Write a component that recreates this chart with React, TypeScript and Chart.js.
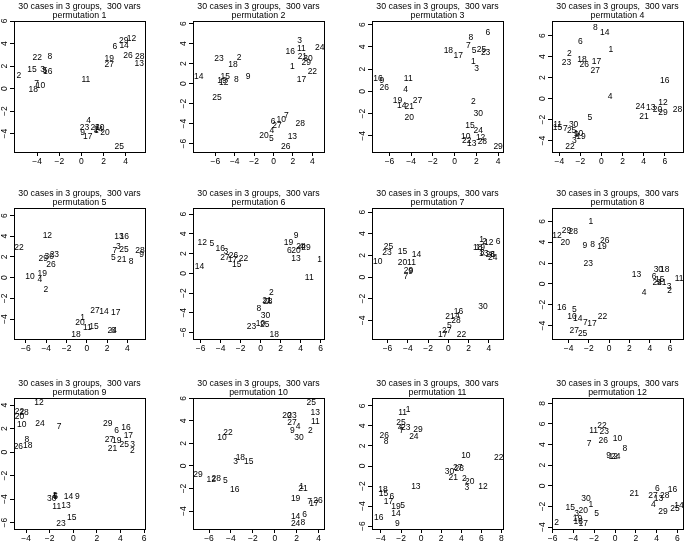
import React, { useEffect, useRef } from "react";
import { Chart, registerables } from "chart.js";

Chart.register(...registerables);

// ---------- data ----------
const titleLine = "30 cases in 3 groups,  300 vars";

const p1Ids = [2, 15, 3, 16, 5, 22, 8, 7, 10, 18, 11, 29, 12, 6, 14, 19, 27, 26, 28, 13, 4, 23, 9, 17, 1, 20, 30, 21, 24, 25];
const p1X = [-5.66, -4.48, -3.52, -3.04, -3.28, -4.0, -2.86, -4.06, -3.7, -4.36, 0.4, 3.83, 4.52, 3.02, 3.86, 2.51, 2.51, 4.22, 5.28, 5.22, 0.64, 0.28, 0.1, 0.58, 1.36, 2.14, 1.66, 1.24, 1.54, 3.41];
const p1Y = [1.12, 1.69, 1.72, 1.54, 1.63, 2.75, 2.87, 0.44, 0.3, -0.06, 0.8, 4.23, 4.41, 3.76, 3.85, 2.66, 2.16, 2.9, 2.87, 2.22, -2.87, -3.49, -3.88, -4.29, -3.76, -3.88, -3.49, -3.49, -3.64, -5.18];
const p1XRange = [-6.1, 5.75];
const p1YRange = [-5.62, 6.0];
const p1XTicks = [-4, -2, 0, 2, 4];
const p1YTicks = [-4, -2, 0, 2, 4, 6];

const p2Ids = [3, 11, 16, 24, 21, 30, 29, 22, 1, 17, 23, 2, 18, 14, 15, 12, 19, 8, 9, 25, 7, 10, 6, 27, 4, 20, 5, 28, 13, 26];
const p2X = [2.69, 2.87, 1.73, 4.76, 2.97, 3.55, 3.38, 4.0, 1.94, 2.87, -5.62, -3.56, -4.18, -7.72, -4.97, -5.14, -5.31, -3.84, -2.63, -5.83, 1.32, 0.8, -0.05, 0.36, -0.16, -0.98, -0.23, 2.76, 1.94, 1.25];
const p2Y = [4.27, 3.5, 3.17, 3.57, 2.73, 2.5, 2.1, 1.17, 1.67, 0.43, 2.5, 2.57, 1.93, 0.67, 0.73, 0.07, 0.27, 0.43, 0.73, -1.4, -3.17, -3.57, -3.83, -4.17, -4.73, -5.17, -5.5, -4.0, -5.27, -6.33];
const p2XRange = [-8.3, 5.2];
const p2YRange = [-6.83, 6.27];
const p2XTicks = [-6, -4, -2, 0, 2, 4];
const p2YTicks = [-6, -4, -2, 0, 2, 4, 6];

const p3Ids = [8, 6, 7, 5, 25, 23, 18, 17, 1, 3, 16, 9, 26, 11, 4, 19, 14, 21, 27, 20, 2, 30, 15, 24, 10, 22, 13, 12, 28, 29];
const p3X = [1.48, 3.06, 1.27, 1.79, 2.48, 2.85, -0.58, 0.33, 1.73, 2.03, -7.06, -6.7, -6.48, -4.27, -4.52, -5.27, -4.88, -4.18, -3.42, -4.18, 1.73, 2.18, 1.42, 2.18, 1.03, 1.12, 1.58, 2.39, 2.55, 4.0];
const p3Y = [4.82, 5.24, 4.13, 3.68, 3.74, 3.47, 3.62, 3.23, 2.63, 2.04, 1.14, 0.99, 0.3, 1.14, 0.15, -0.87, -1.26, -1.35, -0.81, -2.37, -0.96, -2.01, -3.11, -3.5, -4.04, -4.4, -4.7, -4.16, -4.55, -5.0];
const p3XRange = [-7.61, 4.45];
const p3YRange = [-5.45, 6.32];
const p3XTicks = [-6, -4, -2, 0, 2, 4];
const p3YTicks = [-4, -2, 0, 2, 4, 6];

const p4Ids = [8, 14, 6, 1, 2, 23, 18, 26, 17, 27, 16, 4, 12, 24, 13, 20, 29, 28, 21, 5, 11, 15, 30, 7, 25, 10, 9, 19, 3, 22];
const p4X = [-0.59, 0.32, -2.01, 0.89, -3.05, -3.31, -1.85, -1.63, -0.47, -0.59, 6.0, 0.83, 5.84, 3.67, 4.68, 5.31, 5.84, 7.2, 4.04, -1.1, -4.16, -4.16, -2.64, -3.43, -2.83, -2.17, -2.36, -1.95, -2.58, -2.99];
const p4Y = [6.73, 6.29, 5.46, 4.67, 4.29, 3.43, 3.71, 3.27, 3.49, 2.7, 1.68, 0.16, -0.41, -0.73, -0.86, -1.05, -1.33, -1.05, -1.68, -1.81, -2.48, -2.76, -2.44, -2.86, -3.02, -3.33, -3.4, -3.59, -4.03, -4.6];
const p4XRange = [-4.69, 7.73];
const p4YRange = [-5.08, 7.4];
const p4XTicks = [-4, -2, 0, 2, 4, 6];
const p4YTicks = [-4, -2, 0, 2, 4, 6];

const p5Ids = [12, 22, 13, 16, 3, 7, 25, 28, 9, 5, 21, 8, 29, 30, 23, 26, 10, 19, 4, 2, 27, 14, 17, 1, 20, 11, 15, 18, 24, 6];
const p5X = [-3.89, -6.69, 3.18, 3.7, 3.11, 2.78, 3.67, 5.25, 5.41, 2.62, 3.44, 4.36, -4.29, -3.7, -3.2, -3.53, -5.61, -4.39, -4.62, -4.03, 0.81, 1.7, 2.85, -0.41, -0.67, 0.05, 0.71, -1.07, 2.52, 2.62];
const p5Y = [4.01, 2.88, 3.94, 3.94, 3.04, 2.63, 2.72, 2.56, 2.24, 1.92, 1.76, 1.54, 1.83, 1.99, 2.24, 1.22, 0.1, 0.38, -0.16, -1.12, -3.21, -3.3, -3.37, -3.85, -4.39, -4.81, -4.74, -5.51, -5.13, -5.13];
const p5XRange = [-7.18, 5.74];
const p5YRange = [-5.93, 6.73];
const p5XTicks = [-6, -4, -2, 0, 2, 4];
const p5YTicks = [-4, -2, 0, 2, 4, 6];

const p6Ids = [9, 19, 24, 4, 29, 6, 20, 13, 1, 11, 12, 5, 16, 3, 27, 26, 17, 22, 15, 14, 2, 21, 28, 7, 8, 30, 23, 10, 25, 18];
const p6X = [3.54, 2.78, 4.03, 4.08, 4.53, 2.88, 3.54, 3.54, 5.91, 4.86, -5.84, -4.88, -4.03, -3.47, -3.57, -2.71, -2.81, -1.72, -2.38, -6.1, 1.07, 0.64, 0.71, 0.74, -0.18, 0.48, -0.9, -0.01, 0.41, 1.37];
const p6Y = [3.82, 3.14, 2.74, 2.7, 2.57, 2.33, 2.33, 1.45, 1.39, -0.47, 3.07, 2.97, 2.47, 2.23, 1.62, 1.82, 1.39, 1.49, 0.88, 0.71, -1.93, -2.74, -2.84, -2.9, -3.61, -4.29, -5.37, -5.14, -5.24, -6.22];
const p6XRange = [-6.76, 6.34];
const p6YRange = [-6.66, 6.62];
const p6XTicks = [-6, -4, -2, 0, 2, 4, 6];
const p6YTicks = [-6, -4, -2, 0, 2, 4, 6];

const p7Ids = [25, 23, 10, 15, 14, 20, 11, 29, 9, 7, 1, 2, 12, 6, 18, 19, 3, 13, 8, 26, 24, 30, 16, 21, 4, 28, 5, 27, 17, 22];
const p7X = [-5.9, -6.06, -6.97, -4.51, -3.14, -4.51, -3.63, -3.92, -3.73, -4.18, 3.29, 3.58, 4.0, 4.91, 2.9, 3.16, 3.35, 3.51, 4.32, 4.16, 4.39, 3.42, 1.01, 0.17, 0.92, 0.75, 0.1, -0.16, -0.55, 1.31];
const p7Y = [2.83, 2.22, 1.45, 2.37, 2.06, 1.35, 1.35, 0.62, 0.52, 0.06, 3.45, 3.26, 3.2, 3.23, 2.68, 2.74, 2.28, 2.15, 2.09, 2.03, 1.75, -2.71, -3.17, -3.63, -3.57, -4.03, -4.49, -4.92, -5.32, -5.32];
const p7XRange = [-7.53, 5.4];
const p7YRange = [-5.72, 6.37];
const p7XTicks = [-6, -4, -2, 0, 2, 4];
const p7YTicks = [-4, -2, 0, 2, 4, 6];

const p8Ids = [1, 29, 28, 12, 20, 9, 8, 26, 19, 23, 13, 30, 18, 6, 15, 24, 21, 11, 3, 2, 4, 16, 5, 10, 14, 7, 17, 22, 27, 25];
const p8X = [-1.8, -4.2, -3.54, -5.15, -4.33, -2.39, -1.64, -0.43, -0.72, -2.07, 2.69, 4.85, 5.48, 4.43, 4.98, 4.75, 5.18, 6.89, 5.9, 5.97, 3.44, -4.69, -3.44, -3.67, -3.11, -2.36, -1.7, -0.65, -3.44, -2.62];
const p8Y = [5.93, 5.13, 4.97, 4.58, 3.91, 3.69, 3.78, 4.1, 3.53, 1.92, 0.9, 1.38, 1.38, 0.71, 0.42, 0.1, 0.1, 0.48, -0.22, -0.64, -0.87, -2.24, -2.5, -3.11, -3.37, -3.75, -3.78, -3.11, -4.49, -4.81];
const p8XRange = [-5.64, 7.28];
const p8YRange = [-5.29, 7.28];
const p8XTicks = [-4, -2, 0, 2, 4, 6];
const p8YTicks = [-4, -2, 0, 2, 4, 6];

const p9Ids = [12, 22, 28, 20, 10, 24, 7, 8, 26, 18, 29, 6, 16, 17, 27, 19, 25, 3, 21, 2, 4, 5, 1, 30, 14, 9, 11, 13, 15, 23];
const p9X = [-2.9, -4.56, -4.17, -4.56, -4.37, -2.81, -1.2, -3.94, -4.65, -3.86, 2.92, 3.68, 4.47, 4.67, 3.06, 3.68, 4.33, 5.04, 3.32, 5.01, -1.54, -1.5, -1.58, -1.82, -0.41, 0.35, -1.4, -0.61, -0.13, -1.03];
const p9Y = [4.18, 3.42, 3.39, 3.05, 2.34, 2.4, 2.12, 1.07, 0.45, 0.51, 2.43, 1.78, 2.06, 1.41, 1.07, 0.93, 0.65, 0.65, 0.28, 0.08, -3.67, -3.78, -3.72, -3.95, -3.81, -3.81, -4.66, -4.58, -5.56, -6.07];
const p9XRange = [-5.02, 6.08];
const p9YRange = [-6.55, 4.6];
const p9XTicks = [-4, -2, 0, 2, 4, 6];
const p9YTicks = [-6, -4, -2, 0, 2, 4];

const p10Ids = [25, 13, 11, 2, 20, 23, 27, 4, 9, 30, 22, 10, 18, 3, 15, 29, 12, 28, 5, 16, 1, 21, 19, 7, 26, 17, 14, 6, 24, 8];
const p10X = [3.33, 3.7, 3.7, 3.24, 1.11, 1.57, 1.57, 2.12, 1.6, 2.21, -4.27, -4.81, -3.14, -3.57, -2.38, -7.0, -5.79, -5.33, -4.51, -3.66, 2.45, 2.57, 1.9, 3.18, 3.94, 3.57, 1.9, 2.72, 1.9, 2.57];
const p10Y = [5.59, 4.76, 3.94, 3.09, 4.5, 4.5, 3.88, 3.47, 3.15, 2.5, 2.94, 2.5, 0.74, 0.35, 0.35, -0.74, -1.24, -1.12, -1.32, -2.06, -1.85, -2.0, -2.94, -3.18, -3.09, -3.32, -4.47, -4.35, -5.15, -5.0];
const p10XRange = [-7.46, 4.49];
const p10YRange = [-5.59, 6.03];
const p10XTicks = [-6, -4, -2, 0, 2, 4];
const p10YTicks = [-4, -2, 0, 2, 4, 6];

const p11Ids = [11, 1, 25, 4, 23, 7, 29, 24, 26, 8, 10, 22, 27, 28, 30, 21, 2, 20, 3, 12, 13, 18, 15, 6, 17, 19, 5, 14, 16, 9];
const p11X = [-1.84, -1.28, -2.0, -2.1, -1.54, -1.93, -0.3, -0.72, -3.67, -3.48, 4.46, 7.74, 3.64, 3.8, 2.82, 3.21, 4.3, 4.85, 4.56, 6.16, -0.52, -3.8, -3.74, -2.92, -3.25, -2.49, -1.84, -2.49, -4.23, -2.36];
const p11Y = [5.3, 5.63, 4.3, 3.81, 3.81, 3.48, 3.64, 2.98, 3.05, 2.48, 0.99, 0.83, -0.17, -0.26, -0.56, -1.16, -1.23, -1.59, -2.15, -2.05, -2.05, -2.32, -2.81, -3.08, -3.58, -4.04, -3.97, -4.8, -5.13, -5.73];
const p11XRange = [-4.89, 8.16];
const p11YRange = [-6.29, 6.79];
const p11XTicks = [-4, -2, 0, 2, 4, 6, 8];
const p11YTicks = [-6, -4, -2, 0, 2, 4, 6];

const p12Ids = [22, 11, 23, 26, 10, 7, 8, 9, 12, 24, 21, 6, 16, 27, 13, 28, 4, 29, 25, 14, 30, 1, 15, 20, 3, 5, 19, 18, 17, 2];
const p12X = [-1.26, -2.06, -1.04, -1.14, 0.24, -2.48, 0.94, -0.62, -0.18, 0.08, 1.84, 4.08, 5.52, 3.66, 4.18, 4.78, 3.7, 4.62, 5.78, 6.16, -2.8, -2.32, -4.3, -3.06, -3.7, -1.78, -3.6, -3.54, -3.06, -5.62];
const p12Y = [5.88, 5.37, 5.21, 4.41, 4.57, 4.08, 3.6, 2.96, 2.83, 2.83, -0.74, -0.26, -0.32, -0.96, -1.22, -0.96, -1.86, -2.51, -2.19, -1.93, -1.22, -1.83, -2.09, -2.41, -2.73, -2.73, -3.22, -3.47, -3.63, -3.54];
const p12XRange = [-6.06, 6.54];
const p12YRange = [-4.18, 8.52];
const p12XTicks = [-6, -4, -2, 0, 2, 4, 6];
const p12YTicks = [-4, -2, 0, 2, 4, 6, 8];

// ---------- layout ----------
const FONT = '"Liberation Sans", Arial, Helvetica, sans-serif';
const COL_LEFTS = [14, 193, 372, 552];
const ROW_TOPS = [21, 208, 398];
const BOX_W = 131;
const BOX_H = 131;
const AX_L = 24;
const TITLE_H = 21;
const AX_B = 20;
const CW = AX_L * 2 + BOX_W;
const CH = TITLE_H + BOX_H + AX_B;

type PanelSpec = {
  n: number;
  ids: number[];
  xs: number[];
  ys: number[];
  xr: number[];
  yr: number[];
  xt: number[];
  yt: number[];
};

const panels: PanelSpec[] = [
  { n: 1, ids: p1Ids, xs: p1X, ys: p1Y, xr: p1XRange, yr: p1YRange, xt: p1XTicks, yt: p1YTicks },
  { n: 2, ids: p2Ids, xs: p2X, ys: p2Y, xr: p2XRange, yr: p2YRange, xt: p2XTicks, yt: p2YTicks },
  { n: 3, ids: p3Ids, xs: p3X, ys: p3Y, xr: p3XRange, yr: p3YRange, xt: p3XTicks, yt: p3YTicks },
  { n: 4, ids: p4Ids, xs: p4X, ys: p4Y, xr: p4XRange, yr: p4YRange, xt: p4XTicks, yt: p4YTicks },
  { n: 5, ids: p5Ids, xs: p5X, ys: p5Y, xr: p5XRange, yr: p5YRange, xt: p5XTicks, yt: p5YTicks },
  { n: 6, ids: p6Ids, xs: p6X, ys: p6Y, xr: p6XRange, yr: p6YRange, xt: p6XTicks, yt: p6YTicks },
  { n: 7, ids: p7Ids, xs: p7X, ys: p7Y, xr: p7XRange, yr: p7YRange, xt: p7XTicks, yt: p7YTicks },
  { n: 8, ids: p8Ids, xs: p8X, ys: p8Y, xr: p8XRange, yr: p8YRange, xt: p8XTicks, yt: p8YTicks },
  { n: 9, ids: p9Ids, xs: p9X, ys: p9Y, xr: p9XRange, yr: p9YRange, xt: p9XTicks, yt: p9YTicks },
  { n: 10, ids: p10Ids, xs: p10X, ys: p10Y, xr: p10XRange, yr: p10YRange, xt: p10XTicks, yt: p10YTicks },
  { n: 11, ids: p11Ids, xs: p11X, ys: p11Y, xr: p11XRange, yr: p11YRange, xt: p11XTicks, yt: p11YTicks },
  { n: 12, ids: p12Ids, xs: p12X, ys: p12Y, xr: p12XRange, yr: p12YRange, xt: p12XTicks, yt: p12YTicks },
];

const fmt = (v: any) => {
  const n = Number(v);
  return n < 0 ? "\u2212" + Math.abs(n) : String(n);
};

const labelPlugin = {
  id: "textLabels",
  afterDatasetsDraw(chart: any) {
    const ctx = chart.ctx;
    const ds = chart.data.datasets[0];
    const meta = chart.getDatasetMeta(0);
    ctx.save();
    ctx.font = `8.5px ${FONT}`;
    ctx.fillStyle = "#000";
    ctx.textAlign = "center";
    ctx.textBaseline = "middle";
    meta.data.forEach((el: any, i: number) => {
      const p = el.getProps(["x", "y"], true);
      ctx.fillText(String(ds.data[i].id), p.x, p.y);
    });
    ctx.restore();
  },
};

const align = (v: number) => Math.round(v - 0.5) + 0.5;

const boxPlugin = {
  id: "frameBox",
  afterDraw(chart: any) {
    const { left, top, right, bottom } = chart.chartArea;
    const ctx = chart.ctx;
    ctx.save();
    ctx.strokeStyle = "#000";
    ctx.lineWidth = 1;
    const l = align(left);
    const t = align(top);
    const r = align(right);
    const b = align(bottom);
    ctx.strokeRect(l, t, r - l, b - t);
    ctx.restore();
  },
};

function makeConfig(s: PanelSpec): any {
  const tickFont = { family: FONT, size: 8.5 };
  const grid = { drawOnChartArea: false, drawTicks: true, tickLength: 4, color: "#000", lineWidth: 1 };
  return {
    type: "scatter",
    data: {
      datasets: [
        {
          data: s.ids.map((id, i) => ({ x: s.xs[i], y: s.ys[i], id })),
          pointRadius: 0,
          pointHoverRadius: 0,
          showLine: false,
        },
      ],
    },
    options: {
      responsive: false,
      animation: false,
      devicePixelRatio: 1,
      events: [],
      layout: { padding: 0 },
      plugins: {
        legend: { display: false },
        tooltip: { enabled: false },
        title: {
          display: true,
          text: [titleLine, `permutation ${s.n}`],
          color: "#000",
          font: { family: FONT, size: 8.8, weight: "normal", lineHeight: 1.06 },
          padding: { top: 2, bottom: 0.35 },
        },
      },
      scales: {
        x: {
          type: "linear",
          position: "bottom",
          min: s.xr[0],
          max: s.xr[1],
          afterBuildTicks: (ax: any) => {
            ax.ticks = s.xt.map((v) => ({ value: v }));
          },
          afterFit: (ax: any) => {
            ax.height = AX_B;
          },
          grid,
          border: { display: false },
          ticks: { autoSkip: false, maxRotation: 0, minRotation: 0, padding: 1, color: "#000", font: tickFont, callback: fmt },
        },
        y: {
          type: "linear",
          position: "left",
          min: s.yr[0],
          max: s.yr[1],
          afterBuildTicks: (ax: any) => {
            ax.ticks = s.yt.map((v) => ({ value: v }));
          },
          afterFit: (ax: any) => {
            ax.width = AX_L;
          },
          grid,
          border: { display: false },
          ticks: {
            autoSkip: false,
            minRotation: 90,
            maxRotation: 90,
            crossAlign: "center",
            padding: 0,
            color: "#000",
            font: tickFont,
            callback: fmt,
          },
        },
        y2: {
          type: "linear",
          position: "right",
          min: 0,
          max: 1,
          grid: { display: false },
          border: { display: false },
          ticks: { display: false },
          afterFit: (ax: any) => {
            ax.width = AX_L;
          },
        },
      },
    },
    plugins: [labelPlugin, boxPlugin],
  };
}

function Panel({ spec, left, top }: { spec: PanelSpec; left: number; top: number }) {
  const ref = useRef<HTMLCanvasElement>(null);
  useEffect(() => {
    if (!ref.current) return;
    const chart = new Chart(ref.current, makeConfig(spec));
    return () => chart.destroy();
  }, [spec]);
  return (
    <canvas
      ref={ref}
      width={CW}
      height={CH}
      style={{ position: "absolute", left, top, width: CW, height: CH }}
    />
  );
}

export default function App() {
  return (
    <div
      style={{
        position: "fixed",
        left: 0,
        top: 0,
        width: 685,
        height: 544,
        overflow: "hidden",
        background: "#fff",
      }}
    >
      {panels.map((p, i) => {
        const col = i % 4;
        const row = Math.floor(i / 4);
        return (
          <Panel
            key={p.n}
            spec={p}
            left={COL_LEFTS[col] - AX_L}
            top={ROW_TOPS[row] - TITLE_H}
          />
        );
      })}
    </div>
  );
}
